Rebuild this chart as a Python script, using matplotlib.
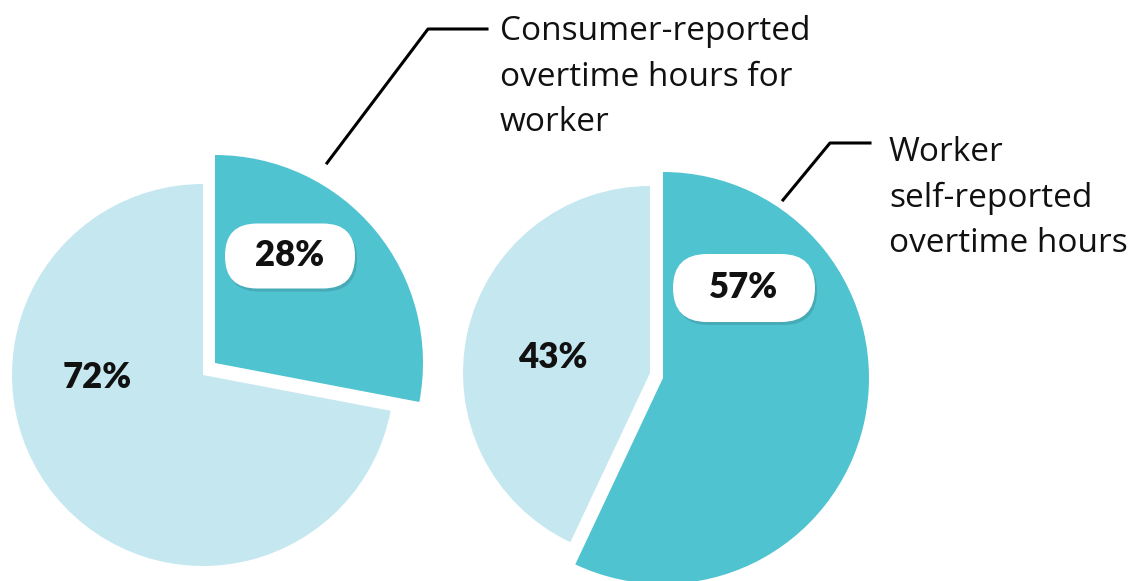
import matplotlib.pyplot as plt
from matplotlib.patches import FancyBboxPatch

plt.rcParams['font.family'] = ['Open Sans', 'DejaVu Sans']

# data
left_vals = [28, 72]
right_vals = [57, 43]
left_labels = ['28%', '72%']
right_labels = ['57%', '43%']
left_title = 'Consumer-reported\novertime hours for\nworker'
right_title = 'Worker\nself-reported\novertime hours'

dark = '#50c3d0'
light = '#c5e7f0'
H = 581

fig = plt.figure(figsize=(11.3, 5.81), dpi=100)
ax = fig.add_axes([0, 0, 1, 1])
ax.set_xlim(0, 1130)
ax.set_ylim(0, H)
ax.set_aspect('equal')
ax.axis('off')


def half_pie(vals, centre, r, cols):
    w, _ = ax.pie(vals, startangle=90, counterclock=False, radius=r,
                  center=centre, colors=cols, wedgeprops=dict(linewidth=0))
    return w


# left pie: light part then the bigger dark slice
half_pie(left_vals, (203, H - 375), 191, ['none', light])
half_pie(left_vals, (215, H - 363), 208, [dark, 'none'])
# right pie
half_pie(right_vals, (650, H - 373), 187, ['none', light])
half_pie(right_vals, (663, H - 378), 206, [dark, 'none'])
ax.set_xlim(0, 1130)
ax.set_ylim(0, H)

pct_font = dict(fontsize=25, fontweight='heavy', color='#111111',
                family=['Lato', 'DejaVu Sans'])


def pill(x, y, w, h, txt):
    sh = FancyBboxPatch((x - w / 2 + 2, H - y - h / 2 - 3), w, h,
                        boxstyle='round,pad=0,rounding_size=%d' % (h / 2),
                        fc='#000000', ec='none', alpha=0.12, zorder=4)
    ax.add_patch(sh)
    b = FancyBboxPatch((x - w / 2, H - y - h / 2), w, h,
                       boxstyle='round,pad=0,rounding_size=%d' % (h / 2),
                       fc='white', ec='none', zorder=5)
    ax.add_patch(b)
    ax.text(x, H - y, txt, ha='center', va='center', zorder=6, **pct_font)


pill(290, 256, 130, 65, left_labels[0])
pill(744, 288, 142, 68, right_labels[0])
ax.text(97, H - 378, left_labels[1], ha='center', va='center', **pct_font)
ax.text(553, H - 357, right_labels[1], ha='center', va='center', **pct_font)

# leader lines
ax.plot([327, 428, 487], [H - 163, H - 29, H - 29], color='black', lw=2.2)
ax.plot([783, 830, 870], [H - 200, H - 143, H - 143], color='black', lw=2.2)

ax.text(500, H - 15, left_title, ha='left', va='top', fontsize=24,
        linespacing=1.5, color='#111111')
ax.text(889, H - 136, right_title, ha='left', va='top', fontsize=24,
        linespacing=1.5, color='#111111')

fig.savefig('out.png', dpi=100)
